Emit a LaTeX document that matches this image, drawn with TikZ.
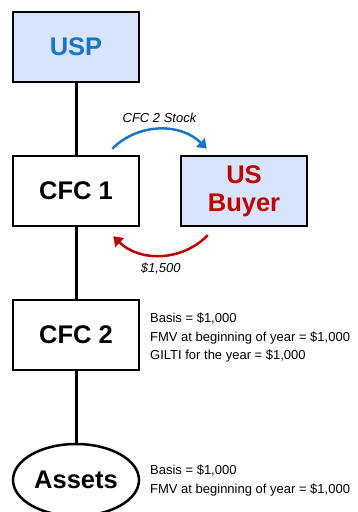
\documentclass[tikz,border=0pt]{standalone}
\usepackage{fontspec}
\setmainfont{Liberation Sans}
\usepackage{xcolor}
\usetikzlibrary{positioning,arrows.meta,shapes.geometric}

\definecolor{boxfill}{RGB}{216,228,250}
\definecolor{uspblue}{RGB}{24,118,196}
\definecolor{buyerred}{RGB}{192,0,0}

\begin{document}
\begin{tikzpicture}[x=1pt, y=1pt,
    entity/.style={draw, line width=2.5pt, minimum width=126pt, minimum height=70pt,
        inner sep=0pt, align=center, font=\fontsize{25.5}{28}\selectfont\bfseries},
    holding/.style={line width=3pt},
    note/.style={anchor=base west, inner sep=0pt, align=left,
        font=\fontsize{13}{18.5}\selectfont},
    flow/.style={line width=2.5pt, -{Triangle[length=9pt,width=12pt]}},
    flowlabel/.style={font=\fontsize{13}{15}\selectfont\itshape}]
\useasboundingbox (0,0) rectangle (357,512);

\node[entity, fill=boxfill, text=uspblue] (usp) at (76,465) {USP};
\node[entity, fill=white] (cfc1) at (76,321) {CFC 1};
\node[entity, fill=boxfill, text=buyerred] (buyer) at (244,321) {US\\Buyer};
\node[entity, fill=white] (cfc2) at (76,177) {CFC 2};
\node[entity, ellipse, fill=white, minimum height=72pt] (assets) at (76,32) {Assets};

\draw[holding] (usp) -- (cfc1);
\draw[holding] (cfc1) -- (cfc2);
\draw[holding] (cfc2) -- (assets);

\draw[flow, uspblue] ([xshift=-28pt,yshift=6pt]cfc1.north east)
    to[bend left=45] node[midway, above=2pt, flowlabel, text=black] {CFC 2 Stock}
    ([xshift=27pt,yshift=6pt]buyer.north west);
\draw[flow, buyerred] ([xshift=28pt,yshift=-8pt]buyer.south west)
    to[bend left=45] node[midway, below=3pt, flowlabel, text=black] {\$1,500}
    ([xshift=-27pt,yshift=-9pt]cfc1.south east);

% base anchor sits on the last line
\node[note] (cfc2note) at (150,152)
    {Basis = \$1,000\\FMV at beginning of year = \$1,000\\GILTI for the year = \$1,000};
\node[note] (assetsnote) at (150,19)
    {Basis = \$1,000\\FMV at beginning of year = \$1,000};

\end{tikzpicture}
\end{document}
